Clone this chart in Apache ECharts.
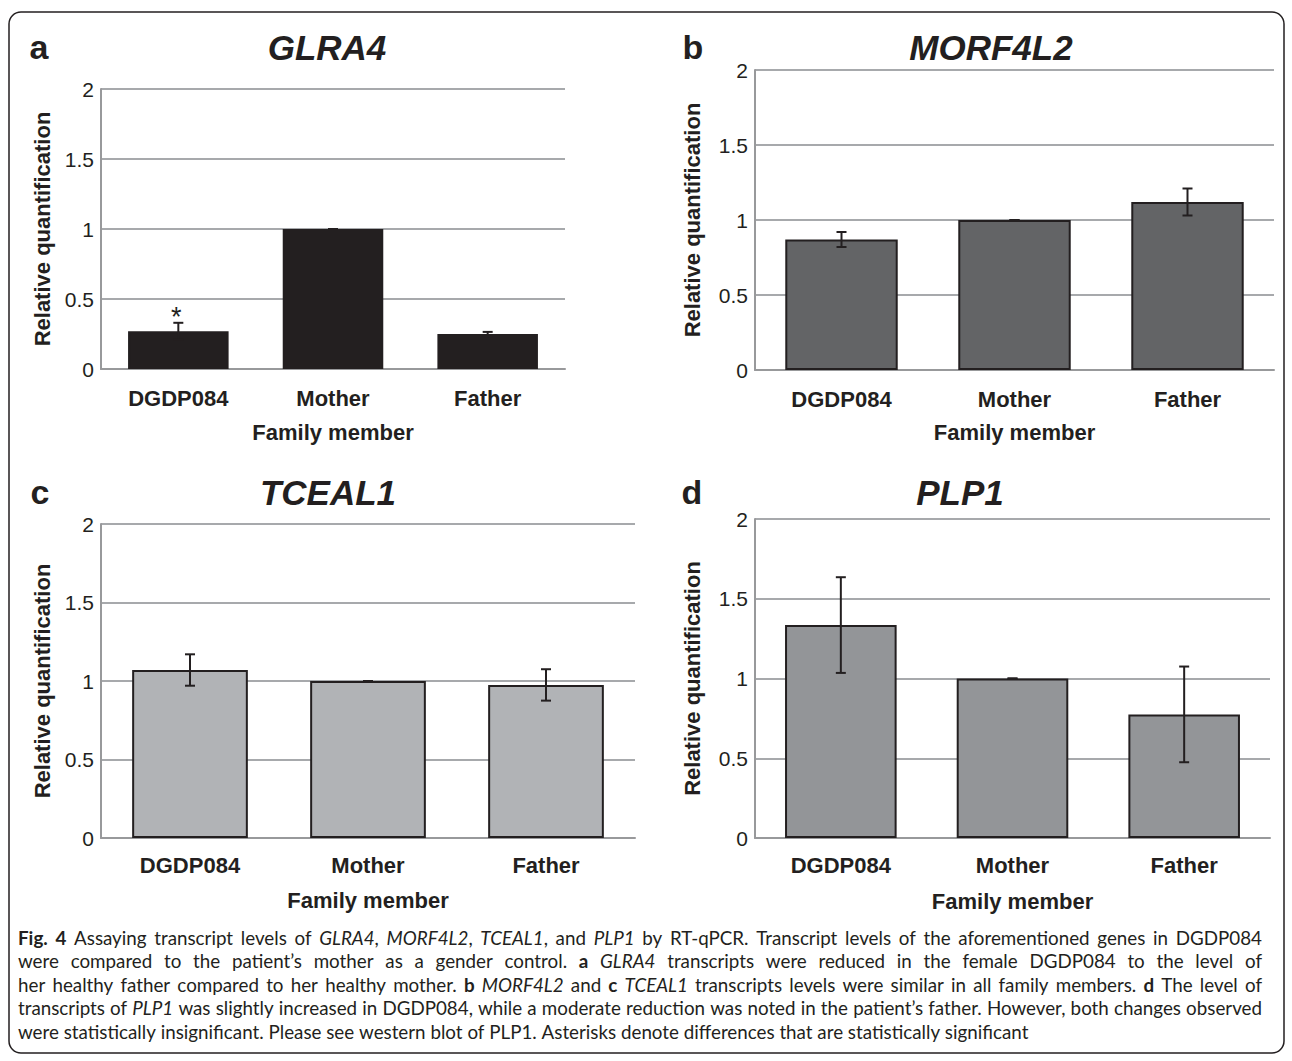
<!DOCTYPE html>
<html>
<head>
<meta charset="utf-8">
<script src="https://cdn.jsdelivr.net/npm/echarts@6/dist/echarts.min.js"></script>
<style>
  html, body { margin: 0; padding: 0; background: #fff; }
  #main { width: 1292px; height: 1061px; }
</style>
</head>
<body>
<div id="main"></div>
<script>
var categories = ['DGDP084', 'Mother', 'Father'];

// relative quantification
var glra4 = [0.27, 1.0, 0.25];
var glra4Err = [0.06, 0, 0.015];
var glra4Sig = ['*', '', ''];

var morf4l2 = [0.87, 1.0, 1.12];
var morf4l2Err = [0.05, 0, 0.09];

var tceal1 = [1.07, 1.0, 0.975];
var tceal1Err = [0.10, 0, 0.10];

var plp1 = [1.335, 1.0, 0.775];
var plp1Err = [0.30, 0, 0.30];

var captionLines = [
  '{b|Fig. 4} Assaying transcript levels of {i|GLRA4}, {i|MORF4L2}, {i|TCEAL1}, and {i|PLP1} by RT-qPCR. Transcript levels of the aforementioned genes in DGDP084',
  'were compared to the patient\u2019s mother as a gender control. {b|a} {i|GLRA4} transcripts were reduced in the female DGDP084 to the level of',
  'her healthy father compared to her healthy mother. {b|b} {i|MORF4L2} and {b|c} {i|TCEAL1} transcripts levels were similar in all family members. {b|d} The level of',
  'transcripts of {i|PLP1} was slightly increased in DGDP084, while a moderate reduction was noted in the patient\u2019s father. However, both changes observed',
  'were statistically insignificant. Please see western blot of PLP1. Asterisks denote differences that are statistically significant'
];

var sans = '"Liberation Sans", Arial, Helvetica, sans-serif';
var ink = '#231f20';

var panels = [
  { letter: 'a', gene: 'GLRA4', values: glra4, errors: glra4Err, marks: glra4Sig, color: '#231f20',
    grid: { left: 101, top: 89, width: 464, height: 280 }, titleX: 327, letterX: 39, titleY: 47,
    yGap: 48, xGap: 52, labelMargin: 18 },
  { letter: 'b', gene: 'MORF4L2', values: morf4l2, errors: morf4l2Err, marks: null, color: '#636466',
    grid: { left: 755, top: 70, width: 519, height: 300 }, titleX: 991, letterX: 693, titleY: 47,
    yGap: 52, xGap: 51, labelMargin: 18 },
  { letter: 'c', gene: 'TCEAL1', values: tceal1, errors: tceal1Err, marks: null, color: '#b1b3b6',
    grid: { left: 101, top: 524, width: 534, height: 314 }, titleX: 328, letterX: 40, titleY: 492,
    yGap: 48, xGap: 51, labelMargin: 16 },
  { letter: 'd', gene: 'PLP1', values: plp1, errors: plp1Err, marks: null, color: '#939598',
    grid: { left: 755, top: 519, width: 515, height: 319 }, titleX: 960, letterX: 692, titleY: 492,
    yGap: 52, xGap: 52, labelMargin: 16 }
];

function errorBars(marks) {
  return function (params, api) {
    var i = api.value(0), v = api.value(1), e = api.value(2);
    var hi = api.coord([i, v + e]);
    var lo = api.coord([i, v - e]);
    var cap = 5;
    var st = { stroke: ink, lineWidth: 2 };
    var kids = [
      { type: 'line', shape: { x1: hi[0], y1: hi[1], x2: lo[0], y2: lo[1] }, style: st },
      { type: 'line', shape: { x1: hi[0] - cap, y1: hi[1], x2: hi[0] + cap, y2: hi[1] }, style: st },
      { type: 'line', shape: { x1: lo[0] - cap, y1: lo[1], x2: lo[0] + cap, y2: lo[1] }, style: st }
    ];
    if (marks && marks[params.dataIndex]) {
      kids.push({ type: 'text', x: hi[0] - 2, y: hi[1] - 6,
        style: { text: marks[params.dataIndex], textAlign: 'center', textVerticalAlign: 'middle',
                 fontSize: 27, fontFamily: sans, fill: ink } });
    }
    return { type: 'group', children: kids };
  };
}

var option = { animation: false, backgroundColor: '#fff', grid: [], xAxis: [], yAxis: [], series: [], graphic: [] };

panels.forEach(function (p, k) {
  var g = Object.assign({ outerBoundsMode: 'none', containLabel: false }, p.grid);
  option.grid.push(g);
  option.xAxis.push({
    type: 'category', gridIndex: k, data: categories,
    axisTick: { show: false },
    axisLine: { show: true, lineStyle: { color: '#98999b', width: 2 } },
    axisLabel: { margin: p.labelMargin, fontSize: 22, fontWeight: 'bold', color: ink, fontFamily: sans },
    name: 'Family member', nameLocation: 'middle', nameGap: p.xGap,
    nameTextStyle: { fontSize: 22, fontWeight: 'bold', color: ink, fontFamily: sans }
  });
  option.yAxis.push({
    type: 'value', gridIndex: k, min: 0, max: 2, interval: 0.5,
    axisLine: { show: true, lineStyle: { color: '#98999b', width: 2 } },
    axisTick: { show: false },
    splitLine: { show: true, lineStyle: { color: '#a7a9ac', width: 2 } },
    axisLabel: { margin: 7, fontSize: 21, color: ink, fontFamily: sans },
    name: 'Relative quantification', nameLocation: 'middle', nameGap: p.yGap, nameRotate: 90,
    nameTextStyle: { fontSize: 22, fontWeight: 'bold', color: ink, fontFamily: sans }
  });
  option.series.push({
    type: 'bar', xAxisIndex: k, yAxisIndex: k, data: p.values, barCategoryGap: '35%',
    itemStyle: { color: p.color, borderColor: ink, borderWidth: 2 }, silent: true
  });
  option.series.push({
    type: 'custom', xAxisIndex: k, yAxisIndex: k, z: 5, silent: true,
    data: p.values.map(function (v, i) { return [i, v, p.errors[i]]; }),
    renderItem: errorBars(p.marks)
  });
  option.graphic.push({ type: 'text', x: p.letterX, y: p.titleY,
    style: { text: p.letter, textAlign: 'center', textVerticalAlign: 'middle', fontSize: 34,
             fontWeight: 'bold', fontFamily: sans, fill: ink } });
  option.graphic.push({ type: 'text', x: p.titleX, y: p.titleY,
    style: { text: p.gene, textAlign: 'center', textVerticalAlign: 'middle', fontSize: 35,
             fontWeight: 'bold', fontStyle: 'italic', fontFamily: sans, fill: ink } });
});

// outer frame
option.graphic.push({ type: 'rect', shape: { x: 9, y: 12, width: 1275, height: 1041, r: 12 },
  style: { fill: 'none', stroke: ink, lineWidth: 1.5 } });

// caption, justified by hand
var capFamily = 'Lato, "Open Sans", sans-serif';
var capSize = 19;
var capLeft = 18, capRight = 1262, capTop = 937, capStep = 23.5;
var ctx = document.createElement('canvas').getContext('2d');
function fontOf(s) {
  return (s === 'i' ? 'italic ' : '') + (s === 'b' ? 'bold ' : '') + capSize + 'px ' + capFamily;
}
function measure(s, t) { ctx.font = fontOf(s); return ctx.measureText(t).width; }
function parseLine(line) {
  var segs = [], re = /\{(\w)\|([^}]*)\}|([^{]+)/g, m;
  while ((m = re.exec(line))) segs.push(m[1] ? { s: m[1], t: m[2] } : { s: 'n', t: m[3] });
  var words = [], cur = [];
  segs.forEach(function (sg) {
    sg.t.split(/( )/).forEach(function (piece) {
      if (piece === ' ') { if (cur.length) words.push(cur); cur = []; }
      else if (piece) cur.push({ s: sg.s, t: piece, w: measure(sg.s, piece) });
    });
  });
  if (cur.length) words.push(cur);
  return words;
}
var target = capRight - capLeft;
// shrink the caption size until the fullest line fits with normal spaces
var parsed = captionLines.map(parseLine);
var ratio = 1;
parsed.forEach(function (words, li) {
  if (li === parsed.length - 1) return;
  var w = 0;
  words.forEach(function (wd) { wd.forEach(function (sg) { w += sg.w; }); });
  ratio = Math.min(ratio, target / (w + (words.length - 1) * measure('n', ' ')));
});
if (ratio < 1) {
  capSize = Math.floor(capSize * ratio * 10) / 10;
  parsed = captionLines.map(parseLine);
}
var spaceW = measure('n', ' ');
parsed.forEach(function (words, li) {
  var total = 0;
  words.forEach(function (wd) { wd.forEach(function (sg) { total += sg.w; }); });
  var gap = li === parsed.length - 1 ? spaceW : (target - total) / (words.length - 1);
  var x = capLeft, y = capTop + li * capStep;
  words.forEach(function (wd) {
    wd.forEach(function (sg) {
      option.graphic.push({ type: 'text', x: x, y: y,
        style: { text: sg.t, textAlign: 'left', textVerticalAlign: 'middle', fontSize: capSize,
                 fontFamily: capFamily, fontStyle: sg.s === 'i' ? 'italic' : 'normal',
                 fontWeight: sg.s === 'b' ? 'bold' : 'normal', fill: ink } });
      x += sg.w;
    });
    x += gap;
  });
});

var chart = echarts.init(document.getElementById('main'), null, { renderer: 'svg' });
chart.setOption(option);
</script>
</body>
</html>
